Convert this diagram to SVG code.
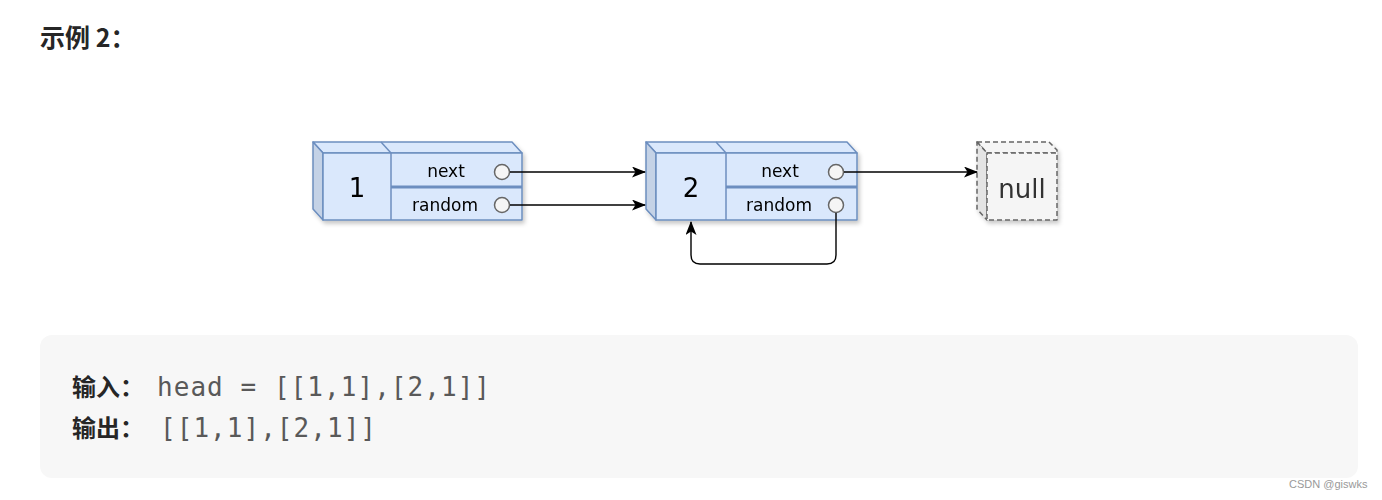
<svg xmlns="http://www.w3.org/2000/svg" width="1382" height="500" viewBox="0 0 1382 500">
<style>
.face{fill:#dae8fc;stroke:#6c8ebf;stroke-width:1.5;stroke-linejoin:round}
.side{fill:#c4d2e6;stroke:#6c8ebf;stroke-width:1.5;stroke-linejoin:round}
.div{stroke:#6c8ebf;stroke-width:1.5;fill:none}
.hdiv{stroke:#6c8ebf;stroke-width:3;fill:none}
.port{fill:#f5f5f5;stroke:#666;stroke-width:1.5}
.lbl{font-family:"DejaVu Sans","Comic Sans MS",sans-serif;font-size:17px;fill:#000;text-anchor:middle}
.num{font-family:"DejaVu Sans",sans-serif;font-size:26px;fill:#000;text-anchor:middle}
.nface{fill:#f5f5f5;stroke:#666;stroke-width:1.5;stroke-dasharray:5 3;stroke-linejoin:round}
.nside{fill:#e4e4e4;stroke:#666;stroke-width:1.5;stroke-dasharray:5 3;stroke-linejoin:round}
.edge{fill:none;stroke:#000;stroke-width:1.4}
.cjk{font-family:"Noto Sans CJK SC","Noto Sans",sans-serif;font-weight:bold;fill:#262626}
.mono{font-family:"DejaVu Sans Mono","Liberation Mono",monospace;font-size:26px;fill:#595959}
</style>
<defs>
<filter id="sh" x="-10%" y="-10%" width="130%" height="140%">
<feDropShadow dx="2" dy="3" stdDeviation="2" flood-color="#000" flood-opacity="0.22"/>
</filter>
<marker id="arr" viewBox="0 0 14 11" refX="13" refY="5.5" markerWidth="14" markerHeight="11" markerUnits="userSpaceOnUse" orient="auto">
<path d="M0,0 L14,5.5 L0,11 L3.5,5.5 Z" fill="#000"/>
</marker>
</defs>
<rect width="1382" height="500" fill="#fff"/>
<text x="40" y="47" class="cjk" font-size="25">示例 2：</text>

<g id="node1" filter="url(#sh)">
<polygon class="face" points="313,142 512,142 522,153 323,153"/>
<polygon class="side" points="313,142 323,153 323,220 313,209"/>
<rect class="face" x="323" y="153" width="199" height="67"/>
<line class="div" x1="381" y1="142" x2="391" y2="153"/>
<line class="div" x1="391" y1="153" x2="391" y2="220"/>
<line class="hdiv" x1="391" y1="187" x2="522" y2="187"/>
<text class="num" x="357" y="197">1</text>
<text class="lbl" x="446" y="177">next</text>
<text class="lbl" x="445" y="211">random</text>
<circle class="port" cx="502" cy="172" r="7.5"/>
<circle class="port" cx="502" cy="205" r="7.5"/>
</g>

<g id="node2" filter="url(#sh)">
<polygon class="face" points="646,142 847,142 857,153 656,153"/>
<polygon class="side" points="646,142 656,153 656,220 646,209"/>
<rect class="face" x="656" y="153" width="201" height="67"/>
<line class="div" x1="716" y1="142" x2="726" y2="153"/>
<line class="div" x1="726" y1="153" x2="726" y2="220"/>
<line class="hdiv" x1="726" y1="187" x2="857" y2="187"/>
<text class="num" x="691" y="197">2</text>
<text class="lbl" x="780" y="177">next</text>
<text class="lbl" x="779" y="211">random</text>
<circle class="port" cx="836" cy="172" r="7.5"/>
<circle class="port" cx="836" cy="205" r="7.5"/>
</g>

<g id="null" filter="url(#sh)">
<polygon class="nface" points="977,142 1049,142 1057,150 1057,153 987,153"/>
<polygon class="nside" points="977,142 987,153 987,220 977,209"/>
<rect class="nface" x="987" y="153" width="70" height="67"/>
<text x="1022" y="198" font-family="DejaVu Sans,sans-serif" font-size="26" fill="#333" text-anchor="middle">null</text>
</g>

<g id="connectors">
<line class="edge" x1="510" y1="172" x2="645" y2="172" marker-end="url(#arr)"/>
<line class="edge" x1="510" y1="205" x2="645" y2="205" marker-end="url(#arr)"/>
<line class="edge" x1="844" y1="172" x2="977" y2="172" marker-end="url(#arr)"/>
<path class="edge" d="M836,213 V255 Q836,264 827,264 H700 Q691,264 691,255 V222" marker-end="url(#arr)"/>
</g>

<rect x="40" y="335" width="1318" height="143" rx="12" fill="#f7f7f7"/>
<text x="72" y="396" class="cjk" font-size="24">输入：</text>
<text x="157" y="396" class="mono" textLength="333" lengthAdjust="spacing">head = [[1,1],[2,1]]</text>
<text x="72" y="437" class="cjk" font-size="24">输出：</text>
<text x="160" y="437" class="mono" textLength="216" lengthAdjust="spacing">[[1,1],[2,1]]</text>
<text x="1289" y="488" font-family="Liberation Sans,sans-serif" font-size="11" fill="#999">CSDN @giswks</text>
</svg>
